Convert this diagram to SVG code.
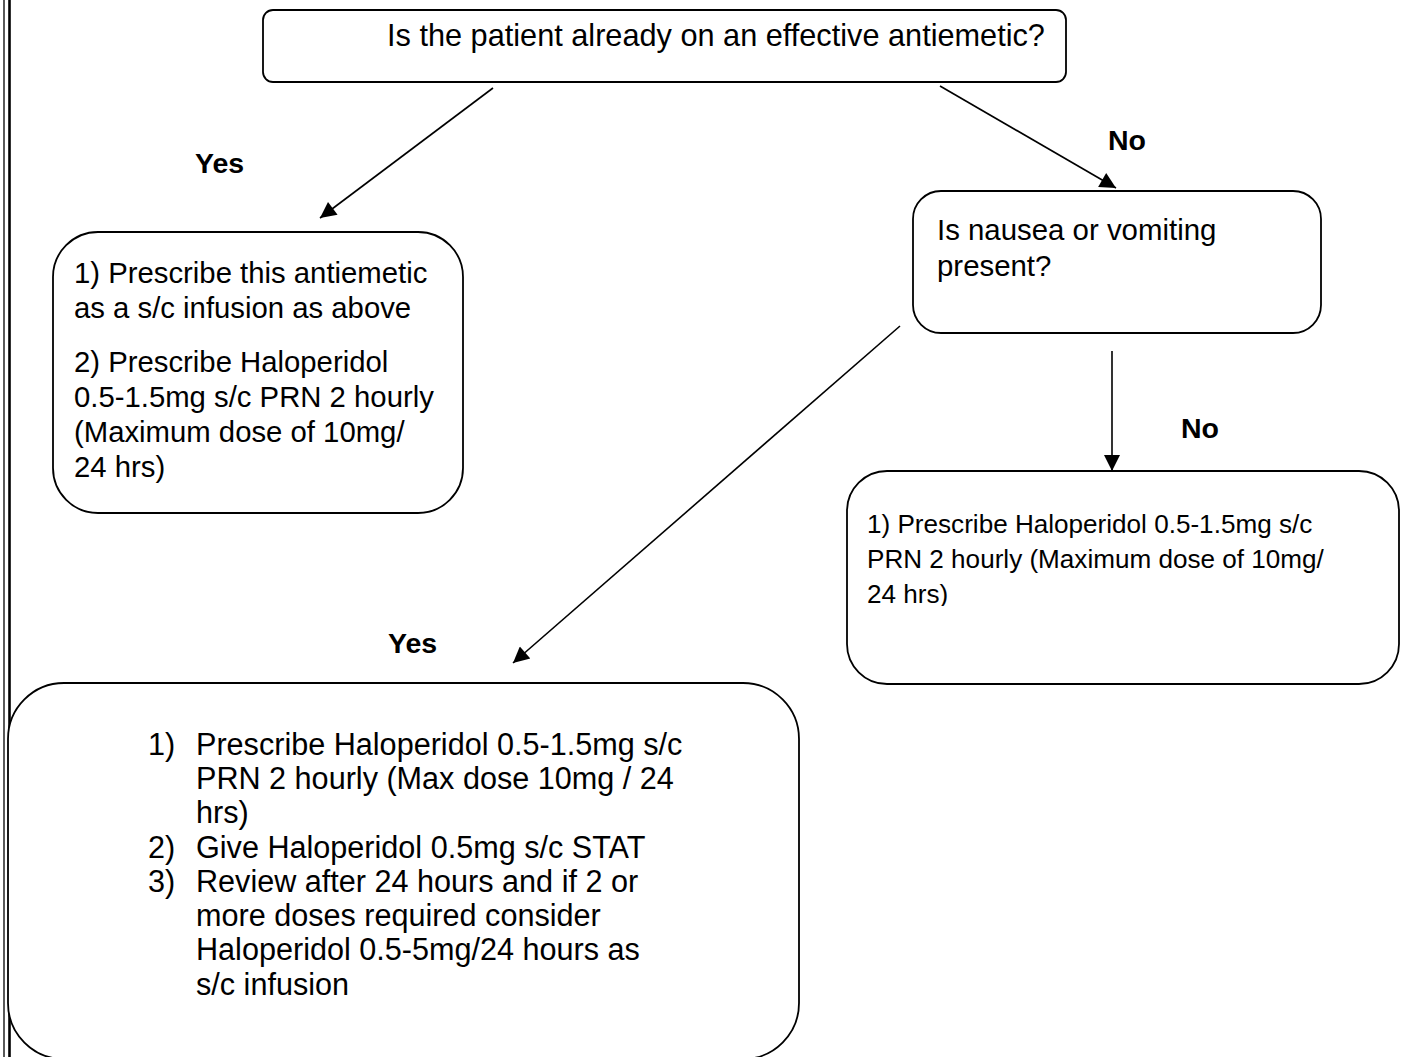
<svg xmlns="http://www.w3.org/2000/svg" width="1407" height="1057" viewBox="0 0 1407 1057">
  <style>
    .box { fill: #ffffff; stroke: #000000; stroke-width: 1.8; }
    .txt { font-family: "Liberation Sans", Arial, sans-serif; fill: #000000; }
    .lbl { font-family: "Liberation Sans", Arial, sans-serif; font-weight: bold; fill: #000000; font-size: 28.5px; }
    .edge { stroke: #000000; stroke-width: 1.6; fill: none; marker-end: url(#arrow); }
  </style>
  <defs>
    <marker id="arrow" viewBox="0 0 10 10" refX="10" refY="5" markerUnits="userSpaceOnUse" markerWidth="20" markerHeight="16" orient="auto">
      <path d="M0,0 L10,5 L0,10 z" fill="#000000"/>
    </marker>
    <clipPath id="clipRight">
      <rect x="847" y="471" width="552" height="135"/>
    </clipPath>
  </defs>
  <rect x="0" y="0" width="1407" height="1057" fill="#ffffff"/>

  <!-- page border on the left -->
  <line x1="4" y1="0" x2="4" y2="1057" stroke="#000000" stroke-width="1.3"/>
  <line x1="9.5" y1="0" x2="9.5" y2="1057" stroke="#000000" stroke-width="2.6"/>

  <g id="connectors">
    <line class="edge" x1="493" y1="88" x2="320" y2="218"/>
    <line class="edge" x1="940" y1="86" x2="1116" y2="188"/>
    <line class="edge" x1="900" y1="326" x2="513" y2="663"/>
    <line class="edge" x1="1112" y1="351" x2="1112" y2="471"/>
  </g>

  <g id="labels">
    <text class="lbl" x="195" y="173">Yes</text>
    <text class="lbl" x="1108" y="150">No</text>
    <text class="lbl" x="1181" y="438">No</text>
    <text class="lbl" x="388" y="653">Yes</text>
  </g>

  <g id="q-antiemetic">
    <rect class="box" x="263" y="10" width="803" height="72" rx="10" ry="10"/>
    <text class="txt" x="387" y="46" font-size="30.7">Is the patient already on an effective antiemetic?</text>
  </g>

  <g id="yes-antiemetic">
    <rect class="box" x="53" y="232" width="410" height="281" rx="45" ry="45"/>
    <text class="txt" font-size="29.3">
      <tspan x="74" y="283">1) Prescribe this antiemetic</tspan>
      <tspan x="74" y="318">as a s/c infusion as above</tspan>
      <tspan x="74" y="372">2) Prescribe Haloperidol</tspan>
      <tspan x="74" y="407">0.5-1.5mg s/c PRN 2 hourly</tspan>
      <tspan x="74" y="442">(Maximum dose of 10mg/</tspan>
      <tspan x="74" y="477">24 hrs)</tspan>
    </text>
  </g>

  <g id="q-nausea">
    <rect class="box" x="913" y="191" width="408" height="142" rx="28" ry="28"/>
    <text class="txt" font-size="29.4">
      <tspan x="937" y="240">Is nausea or vomiting</tspan>
      <tspan x="937" y="276">present?</tspan>
    </text>
  </g>

  <g id="no-nausea">
    <rect class="box" x="847" y="471" width="552" height="213" rx="40" ry="40"/>
    <text class="txt" font-size="26.1" clip-path="url(#clipRight)">
      <tspan x="867" y="533">1) Prescribe Haloperidol 0.5-1.5mg s/c</tspan>
      <tspan x="867" y="568">PRN 2 hourly (Maximum dose of 10mg/</tspan>
      <tspan x="867" y="603">24 hrs)</tspan>
    </text>
  </g>

  <g id="yes-nausea">
    <rect class="box" x="8" y="683" width="791" height="376" rx="56" ry="56"/>
    <text class="txt" font-size="30.6">
      <tspan x="148" y="755">1)</tspan>
      <tspan x="196" y="755">Prescribe Haloperidol 0.5-1.5mg s/c</tspan>
      <tspan x="196" y="789">PRN 2 hourly (Max dose 10mg / 24</tspan>
      <tspan x="196" y="823">hrs)</tspan>
      <tspan x="148" y="858">2)</tspan>
      <tspan x="196" y="858">Give Haloperidol 0.5mg s/c STAT</tspan>
      <tspan x="148" y="892">3)</tspan>
      <tspan x="196" y="892">Review after 24 hours and if 2 or</tspan>
      <tspan x="196" y="926">more doses required consider</tspan>
      <tspan x="196" y="960">Haloperidol 0.5-5mg/24 hours as</tspan>
      <tspan x="196" y="995">s/c infusion</tspan>
    </text>
  </g>
</svg>
